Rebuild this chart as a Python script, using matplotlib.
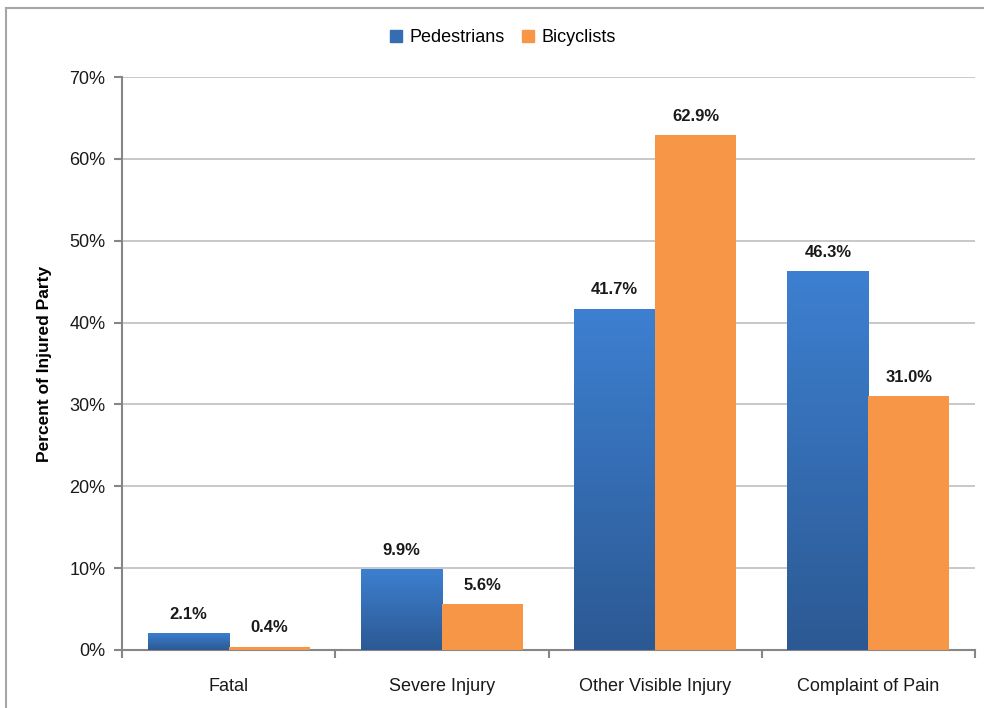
import numpy as np
import matplotlib.pyplot as plt
from matplotlib.lines import Line2D

plt.rcParams['font.family'] = ['Liberation Sans', 'DejaVu Sans']

# data
categories = ["Fatal", "Severe Injury", "Other Visible Injury", "Complaint of Pain"]
pedestrians = [2.1, 9.9, 41.7, 46.3]
bicyclists = [0.4, 5.6, 62.9, 31.0]
series_names = ["Pedestrians", "Bicyclists"]

blue_top = np.array([0x3D, 0x80, 0xD1]) / 255
blue_bot = np.array([0x2C, 0x59, 0x93]) / 255
orange = "#F79646"

fig = plt.figure(figsize=(9.84, 7.08), dpi=100)
ax = fig.add_axes([122 / 984, 1 - 650 / 708, (975 - 122) / 984, (650 - 77) / 708])

x = np.arange(len(categories))
w = 0.38

# blue bars with vertical gradient
grad = np.linspace(0, 1, 256)[:, None, None]
grad_img = blue_bot + (blue_top - blue_bot) * grad
grad_img = np.repeat(grad_img, 2, axis=1)
bars_p = ax.bar(x - w / 2, pedestrians, w, color="none", edgecolor="none", zorder=3)
for b in bars_p:
    x0, y0 = b.get_x(), b.get_y()
    im = ax.imshow(grad_img, extent=[x0, x0 + b.get_width(), y0, y0 + b.get_height()],
                   origin="lower", aspect="auto", zorder=3, interpolation="bilinear")
    im.set_clip_path(b)
bars_b = ax.bar(x + w / 2, bicyclists, w, color=orange, edgecolor="none", zorder=3)

for bars, vals in [(bars_p, pedestrians), (bars_b, bicyclists)]:
    for b, v in zip(bars, vals):
        ax.annotate(f"{v:.1f}%", (b.get_x() + b.get_width() / 2, v),
                    xytext=(0, 13.5), textcoords="offset points", ha="center", va="center",
                    fontsize=12, fontweight="bold", color="#1a1a1a")

ax.set_xlim(-0.5, 3.5)
ax.set_ylim(0, 70)
ax.set_yticks(np.arange(0, 71, 10))
ax.set_yticklabels([f"{t}%" for t in range(0, 71, 10)], fontsize=13, color="#1a1a1a")
ax.yaxis.grid(True, color="#BFBFBF", linewidth=1.2, zorder=0)
ax.set_axisbelow(True)

ax.set_xticks(x)
ax.set_xticklabels(categories, fontsize=13, color="#1a1a1a")
ax.set_xticks(np.arange(-0.5, 4, 1), minor=True)
ax.tick_params(axis="x", which="major", length=0, pad=20)
ax.tick_params(axis="x", which="minor", length=6, width=1.5, color="#868686", direction="out")
ax.tick_params(axis="y", length=6, width=1.5, color="#868686", pad=6)

for s in ["top", "right"]:
    ax.spines[s].set_visible(False)
for s in ["left", "bottom"]:
    ax.spines[s].set_color("#868686")
    ax.spines[s].set_linewidth(1.5)

ax.set_ylabel("Percent of Injured Party", fontsize=12.5, fontweight="bold",
              family=["Liberation Sans Narrow", "Liberation Sans"], labelpad=12)

handles = [plt.Rectangle((0, 0), 1, 1, color=blue_top * 0.5 + blue_bot * 0.5),
           plt.Rectangle((0, 0), 1, 1, color=orange)]
fig.legend(handles, series_names, loc="center", bbox_to_anchor=(503 / 984, 1 - 38 / 708),
           ncol=2, frameon=False, fontsize=13, handlelength=0.65, handleheight=0.65,
           handletextpad=0.4, columnspacing=1.0)

# outer border
fig.add_artist(Line2D([5.5 / 984, 1], [1 - 7.5 / 708] * 2, color="#A6A6A6", linewidth=1.5))
fig.add_artist(Line2D([5.5 / 984] * 2, [0, 1 - 7.5 / 708], color="#A6A6A6", linewidth=1.5))

fig.savefig("out.png", dpi=100)
